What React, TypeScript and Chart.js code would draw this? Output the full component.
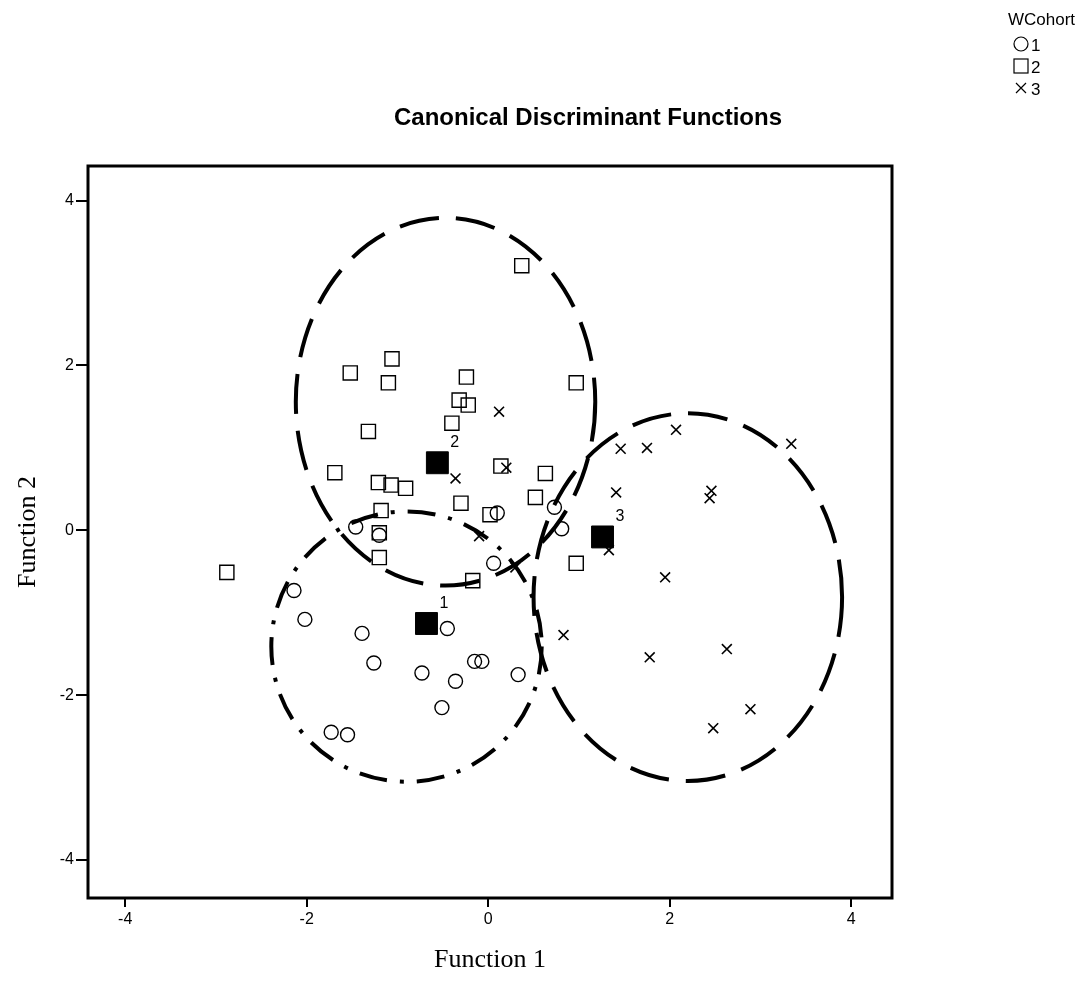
import React, { useEffect, useRef } from "react";
import { Chart, registerables } from "chart.js";

Chart.register(...registerables);

// ---- data ----
const cohort1X = [-1.46, -1.20, 0.10, 0.73, 0.81, 0.06, -2.14, -2.02, -1.39, -1.26, -0.45, -0.73, -0.15, -0.07, -0.36, 0.33, -0.51, -1.73, -1.55];
const cohort1Y = [0.04, -0.06, 0.21, 0.28, 0.02, -0.40, -0.73, -1.08, -1.25, -1.61, -1.19, -1.73, -1.59, -1.59, -1.83, -1.75, -2.15, -2.45, -2.48];

const cohort2X = [-2.88, -1.52, -1.06, -1.10, -1.32, -1.69, -1.21, -1.07, -0.91, -0.24, -0.32, -0.22, -0.40, 0.37, 0.97, 0.14, 0.63, -0.30, 0.02, 0.52, 0.97, -0.17, -1.18, -1.20, -1.20];
const cohort2Y = [-0.51, 1.91, 2.08, 1.79, 1.20, 0.70, 0.58, 0.55, 0.51, 1.86, 1.58, 1.52, 1.30, 3.21, 1.79, 0.78, 0.69, 0.33, 0.19, 0.40, -0.40, -0.61, 0.24, -0.03, -0.33];

const cohort3X = [0.12, -0.36, 0.20, -0.10, 0.30, 2.07, 1.46, 1.75, 3.34, 1.41, 2.46, 2.44, 1.33, 1.95, 0.83, 1.78, 2.63, 2.89, 2.48];
const cohort3Y = [1.44, 0.63, 0.76, -0.07, -0.45, 1.22, 0.99, 1.00, 1.05, 0.46, 0.48, 0.39, -0.24, -0.57, -1.27, -1.54, -1.44, -2.17, -2.40];

const centroidLabels = ["1", "2", "3"];
const centroidX = [-0.68, -0.56, 1.26];
const centroidY = [-1.13, 0.82, -0.08];

const ellipseCenterX = [-0.90, -0.47, 2.20];
const ellipseCenterY = [-1.41, 1.56, -0.81];
const ellipseRadiusX = [1.49, 1.65, 1.70];
const ellipseRadiusY = [1.64, 2.23, 2.23];

const xTickValues = [-4, -2, 0, 2, 4];
const yTickValues = [-4, -2, 0, 2, 4];

const legendTitle = "WCohort";
const legendLabels = ["1", "2", "3"];
const chartTitle = "Canonical Discriminant Functions";
const xAxisTitle = "Function 1";
const yAxisTitle = "Function 2";

const toPoints = (xs: number[], ys: number[]) => xs.map((x, i) => ({ x, y: ys[i] }));

const SANS = "'Liberation Sans', Arial, sans-serif";
const SERIF = "'Liberation Serif', 'Times New Roman', serif";

const ellipseDashes: number[][] = [
  [28, 13, 4, 13],
  [40, 17],
  [40, 17],
];

const ellipsePlugin = {
  id: "ellipses",
  beforeDatasetsDraw(chart: any) {
    const { ctx, scales } = chart;
    const xs = scales.x;
    const ys = scales.y;
    ctx.save();
    ctx.strokeStyle = "#000";
    ctx.lineWidth = 4;
    ctx.lineCap = "butt";
    for (let i = 0; i < ellipseCenterX.length; i++) {
      const cx = xs.getPixelForValue(ellipseCenterX[i]);
      const cy = ys.getPixelForValue(ellipseCenterY[i]);
      const rx = Math.abs(xs.getPixelForValue(ellipseCenterX[i] + ellipseRadiusX[i]) - cx);
      const ry = Math.abs(ys.getPixelForValue(ellipseCenterY[i] + ellipseRadiusY[i]) - cy);
      ctx.setLineDash(ellipseDashes[i]);
      ctx.beginPath();
      ctx.ellipse(cx, cy, rx, ry, 0, 0, Math.PI * 2);
      ctx.stroke();
    }
    ctx.restore();
  },
};

const decorPlugin = {
  id: "decor",
  afterDraw(chart: any) {
    const { ctx, chartArea, scales } = chart;
    ctx.save();
    // frame
    ctx.setLineDash([]);
    ctx.strokeStyle = "#000";
    ctx.lineWidth = 3;
    ctx.strokeRect(chartArea.left, chartArea.top, chartArea.right - chartArea.left, chartArea.bottom - chartArea.top);

    // centroid labels
    ctx.fillStyle = "#000";
    ctx.font = `16px ${SANS}`;
    ctx.textAlign = "left";
    ctx.textBaseline = "middle";
    for (let i = 0; i < centroidX.length; i++) {
      const px = scales.x.getPixelForValue(centroidX[i]);
      const py = scales.y.getPixelForValue(centroidY[i]);
      ctx.fillText(centroidLabels[i], px + 13, py - 20);
    }

    // title
    ctx.font = `bold 24px ${SANS}`;
    ctx.textAlign = "center";
    ctx.textBaseline = "middle";
    ctx.fillText(chartTitle, 588, 118);

    // legend
    ctx.font = `17px ${SANS}`;
    ctx.textAlign = "left";
    ctx.fillText(legendTitle, 1008, 20);
    ctx.lineWidth = 1.2;
    const lx = 1021;
    const ly = [44, 66, 88];
    // circle
    ctx.beginPath();
    ctx.arc(lx, ly[0], 7, 0, Math.PI * 2);
    ctx.stroke();
    // square
    ctx.strokeRect(lx - 7, ly[1] - 7, 14, 14);
    // cross
    ctx.beginPath();
    ctx.moveTo(lx - 5, ly[2] - 5);
    ctx.lineTo(lx + 5, ly[2] + 5);
    ctx.moveTo(lx + 5, ly[2] - 5);
    ctx.lineTo(lx - 5, ly[2] + 5);
    ctx.stroke();
    for (let i = 0; i < legendLabels.length; i++) {
      ctx.fillText(legendLabels[i], lx + 10, ly[i] + 2);
    }
    ctx.restore();
  },
};

export default function App() {
  const canvasRef = useRef<HTMLCanvasElement | null>(null);

  useEffect(() => {
    document.body.style.margin = "0";
    const canvas = canvasRef.current;
    if (!canvas) return;

    const chart = new Chart(canvas, {
      type: "scatter",
      data: {
        datasets: [
          {
            label: "1",
            data: toPoints(cohort1X, cohort1Y),
            pointStyle: "circle",
            pointRadius: 7,
            borderColor: "#000",
            backgroundColor: "rgba(0,0,0,0)",
            borderWidth: 1.4,
          },
          {
            label: "2",
            data: toPoints(cohort2X, cohort2Y),
            pointStyle: "rect",
            pointRadius: 10,
            borderColor: "#000",
            backgroundColor: "rgba(0,0,0,0)",
            borderWidth: 1.4,
          },
          {
            label: "3",
            data: toPoints(cohort3X, cohort3Y),
            pointStyle: "crossRot",
            pointRadius: 7,
            borderColor: "#000",
            backgroundColor: "rgba(0,0,0,0)",
            borderWidth: 1.6,
          },
          {
            label: "Group Centroid",
            data: toPoints(centroidX, centroidY),
            pointStyle: "rect",
            pointRadius: 15.5,
            borderColor: "#000",
            backgroundColor: "#000",
            borderWidth: 1,
          },
        ],
      },
      options: {
        responsive: false,
        animation: false,
        devicePixelRatio: 1,
        layout: { padding: { top: 166, right: 187, left: 0, bottom: 0 } },
        plugins: {
          legend: { display: false },
          tooltip: { enabled: false },
          title: { display: false },
        },
        scales: {
          x: {
            type: "linear",
            position: "bottom",
            min: -4.41,
            max: 4.45,
            afterBuildTicks: (scale: any) => {
              scale.ticks = xTickValues.map((v) => ({ value: v }));
            },
            afterFit: (scale: any) => {
              scale.height = 89;
            },
            grid: {
              display: true,
              drawOnChartArea: false,
              drawTicks: true,
              tickLength: 9,
              color: "#000",
              lineWidth: 2,
            },
            border: { display: false },
            ticks: {
              color: "#000",
              font: { family: SANS, size: 16 },
              padding: 3,
              maxRotation: 0,
              callback: (v: any) => String(v),
            },
            title: {
              display: true,
              text: xAxisTitle,
              color: "#000",
              font: { family: SERIF, size: 26 },
              padding: { top: 0, bottom: 11 },
            },
          },
          y: {
            type: "linear",
            position: "left",
            min: -4.46,
            max: 4.42,
            afterBuildTicks: (scale: any) => {
              scale.ticks = yTickValues.map((v) => ({ value: v }));
            },
            afterFit: (scale: any) => {
              scale.width = 88;
            },
            grid: {
              display: true,
              drawOnChartArea: false,
              drawTicks: true,
              tickLength: 12,
              color: "#000",
              lineWidth: 2,
            },
            border: { display: false },
            ticks: {
              color: "#000",
              font: { family: SANS, size: 16 },
              padding: 2,
              callback: (v: any) => String(v),
            },
            title: {
              display: true,
              text: yAxisTitle,
              color: "#000",
              font: { family: SERIF, size: 26 },
              padding: { top: 13, bottom: 0 },
            },
          },
        },
      },
      plugins: [ellipsePlugin, decorPlugin],
    } as any);

    return () => {
      chart.destroy();
    };
  }, []);

  return (
    <div style={{ width: 1079, height: 987, background: "#fff" }}>
      <canvas ref={canvasRef} width={1079} height={987} style={{ display: "block", width: 1079, height: 987 }} />
    </div>
  );
}
